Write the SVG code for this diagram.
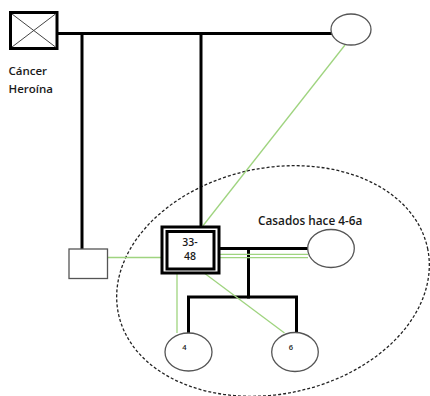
<svg xmlns="http://www.w3.org/2000/svg" width="430" height="396" viewBox="0 0 430 396">
  <style>
    .bg { fill: #ffffff; }
    .line { stroke: #000000; stroke-width: 3; fill: none; stroke-linecap: square; }
    .rel { stroke: #9fd47f; stroke-width: 1.3; fill: none; }
    .person { fill: #ffffff; stroke: #555555; stroke-width: 1.3; }
    .thick { fill: #ffffff; stroke: #000000; stroke-width: 3; }
    .cross { stroke: #444444; stroke-width: 1; }
    .household { fill: none; stroke: #222222; stroke-width: 1.3; stroke-dasharray: 3 2; }
    .label { font-family: "Open Sans", "Liberation Sans", sans-serif; font-weight: 600; fill: #1a1a1a; }
  </style>
  <rect class="bg" x="0" y="0" width="430" height="396"/>

  <!-- household boundary -->
  <ellipse class="household" cx="273" cy="281" rx="158" ry="113" transform="rotate(-12 273 281)"/>

  <g id="connectors">
    <!-- parents' marriage line and descent lines -->
    <line class="line" x1="57" y1="33.5" x2="331" y2="33.5"/>
    <line class="line" x1="82" y1="33.5" x2="82" y2="249"/>
    <line class="line" x1="201" y1="33.5" x2="201" y2="227"/>
    <!-- index person's marriage and children -->
    <line class="line" x1="219" y1="248.5" x2="308" y2="248.5"/>
    <line class="line" x1="248.5" y1="248.5" x2="248.5" y2="297"/>
    <polyline class="line" points="188.5,333 188.5,297 296.5,297 296.5,333" style="stroke-linecap:butt"/>
    <!-- relationship lines -->
    <line class="rel" x1="345" y1="45" x2="202" y2="227"/>
    <line class="rel" x1="107" y1="257.5" x2="162" y2="257.5"/>
    <line class="rel" x1="214" y1="254.3" x2="308" y2="254.3"/>
    <line class="rel" x1="214" y1="257.7" x2="308" y2="257.7"/>
    <line class="rel" x1="177" y1="273" x2="177" y2="333"/>
    <line class="rel" x1="203.5" y1="272.5" x2="284.5" y2="333"/>
  </g>

  <g id="father">
    <rect class="thick" x="10.5" y="12.5" width="46.5" height="36"/>
    <line class="cross" x1="12" y1="14" x2="55.5" y2="47"/>
    <line class="cross" x1="55.5" y1="14" x2="12" y2="47"/>
    <text class="label" x="8.5" y="75" font-size="11.5">Cáncer</text>
    <text class="label" x="8.5" y="93" font-size="11.5">Heroína</text>
  </g>

  <g id="mother">
    <ellipse class="person" cx="351" cy="29.5" rx="20" ry="15.5"/>
  </g>

  <g id="sibling">
    <rect class="person" x="69" y="249" width="38.5" height="29.5"/>
  </g>

  <g id="index">
    <rect class="thick" x="162" y="227" width="57" height="46" stroke-width="2.6"/>
    <rect class="thick" x="167" y="231.5" width="47" height="37.5" stroke-width="2.6"/>
    <text class="label" x="190" y="246" font-size="10.5" text-anchor="middle">33-</text>
    <text class="label" x="190" y="259.5" font-size="10.5" text-anchor="middle">48</text>
  </g>

  <g id="spouse">
    <ellipse class="person" cx="331" cy="248.5" rx="23.3" ry="19"/>
    <text class="label" x="258" y="225" font-size="11.8">Casados hace 4-6a</text>
  </g>

  <g id="child-4">
    <ellipse class="person" cx="188.5" cy="352" rx="23.5" ry="19"/>
    <text class="label" x="184.5" y="350" font-size="7.5" text-anchor="middle">4</text>
  </g>

  <g id="child-6">
    <ellipse class="person" cx="295" cy="352" rx="23.3" ry="19.5"/>
    <text class="label" x="291" y="350" font-size="7.5" text-anchor="middle">6</text>
  </g>
</svg>
